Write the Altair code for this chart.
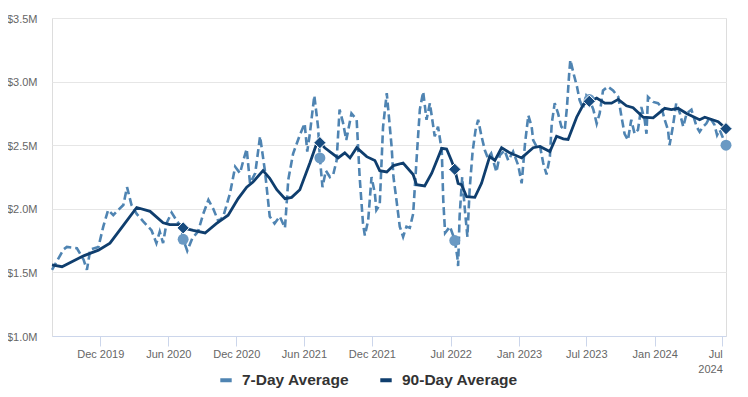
import altair as alt
import pandas as pd

# ---------------- data (values in $M) ----------------
ma7_dates = [
    "2019-07-24", "2019-08-24", "2019-09-02", "2019-09-29", "2019-10-17", "2019-10-26", "2019-11-04", "2019-11-26",
    "2019-12-09", "2019-12-22", "2020-01-05", "2020-01-18", "2020-02-01", "2020-02-11", "2020-02-23", "2020-03-08",
    "2020-03-26", "2020-04-17", "2020-04-30", "2020-05-09", "2020-05-18", "2020-05-27", "2020-06-10", "2020-06-23",
    "2020-07-07", "2020-07-11", "2020-07-22", "2020-08-05", "2020-08-20", "2020-09-03", "2020-09-17", "2020-09-30",
    "2020-10-14", "2020-10-27", "2020-11-14", "2020-11-28", "2020-12-11", "2020-12-20", "2020-12-29", "2021-01-07",
    "2021-01-21", "2021-02-03", "2021-02-16", "2021-03-01", "2021-03-14", "2021-03-28", "2021-04-11", "2021-04-20",
    "2021-05-03", "2021-05-21", "2021-06-03", "2021-06-10", "2021-06-17", "2021-06-29", "2021-07-09", "2021-07-14",
    "2021-07-21", "2021-07-30", "2021-08-10", "2021-08-19", "2021-08-28", "2021-09-05", "2021-09-14", "2021-09-23",
    "2021-10-07", "2021-10-21", "2021-10-29", "2021-11-07", "2021-11-12", "2021-11-21", "2021-11-30", "2021-12-09",
    "2021-12-13", "2021-12-22", "2021-12-31", "2022-01-10", "2022-01-14", "2022-01-23", "2022-01-28", "2022-02-05",
    "2022-02-14", "2022-02-23", "2022-03-04", "2022-03-13", "2022-03-22", "2022-03-31", "2022-04-09", "2022-04-18",
    "2022-04-27", "2022-05-06", "2022-05-19", "2022-05-28", "2022-06-07", "2022-06-11", "2022-06-16", "2022-06-29",
    "2022-07-12", "2022-07-19", "2022-07-21", "2022-07-25", "2022-08-01", "2022-08-08", "2022-08-15", "2022-08-21",
    "2022-08-29", "2022-09-06", "2022-09-13", "2022-09-22", "2022-10-01", "2022-10-09", "2022-10-18", "2022-11-01",
    "2022-11-10", "2022-11-23", "2022-12-03", "2022-12-16", "2022-12-30", "2023-01-08", "2023-01-17", "2023-01-26",
    "2023-02-04", "2023-02-08", "2023-02-17", "2023-02-26", "2023-03-07", "2023-03-16", "2023-03-25", "2023-03-30",
    "2023-04-07", "2023-04-16", "2023-04-25", "2023-05-04", "2023-05-10", "2023-05-16", "2023-05-19", "2023-05-28",
    "2023-06-06", "2023-06-13", "2023-06-22", "2023-07-01", "2023-07-09", "2023-07-20", "2023-07-29", "2023-08-06",
    "2023-08-15", "2023-08-28", "2023-09-11", "2023-09-25", "2023-10-03", "2023-10-12", "2023-10-21", "2023-10-30",
    "2023-11-08", "2023-11-17", "2023-11-26", "2023-12-05", "2023-12-10", "2023-12-14", "2023-12-28", "2024-01-10",
    "2024-01-19", "2024-01-28", "2024-02-06", "2024-02-10", "2024-02-19", "2024-02-28", "2024-03-09", "2024-03-18",
    "2024-03-27", "2024-04-09", "2024-04-23", "2024-05-01", "2024-05-10", "2024-05-19", "2024-05-28", "2024-06-10",
    "2024-06-17", "2024-06-24", "2024-07-11",
]
ma7_values = [
    1.52, 1.68, 1.70, 1.69, 1.60, 1.52, 1.68, 1.70,
    1.86, 1.99, 1.95, 1.99, 2.03, 2.17, 2.03, 1.96,
    1.90, 1.83, 1.73, 1.82, 1.73, 1.885, 1.97, 1.91,
    1.85, 1.76, 1.67, 1.77, 1.82, 1.96, 2.07, 2.00,
    1.90, 1.94, 2.12, 2.33, 2.28, 2.38, 2.47, 2.20,
    2.28, 2.57, 2.30, 1.94, 1.885, 1.94, 1.85, 2.23,
    2.435, 2.58, 2.67, 2.45, 2.59, 2.89, 2.645, 2.40,
    2.17, 2.30, 2.25, 2.27, 2.38, 2.78, 2.68, 2.54,
    2.75, 2.70, 2.25, 1.885, 1.79, 1.91, 2.25, 2.12,
    1.99, 2.03, 2.645, 2.91, 2.78, 2.49, 2.25, 2.07,
    1.86, 1.78, 1.86, 1.85, 1.96, 2.38, 2.78, 2.92,
    2.70, 2.83, 2.57, 2.645, 2.46, 2.07, 1.81, 1.86,
    1.755, 1.62, 1.55, 1.94, 2.25, 2.00, 1.78, 2.15,
    2.45, 2.62, 2.70, 2.57, 2.46, 2.40, 2.435, 2.29,
    2.42, 2.46, 2.38, 2.45, 2.34, 2.20, 2.51, 2.735,
    2.645, 2.54, 2.49, 2.50, 2.36, 2.27, 2.41, 2.67,
    2.83, 2.75, 2.645, 2.62, 2.80, 3.065, 3.17, 3.06,
    2.96, 2.855, 2.79, 2.89, 2.86, 2.78, 2.67, 2.75,
    2.93, 2.96, 2.93, 2.88, 2.735, 2.59, 2.54, 2.70,
    2.59, 2.62, 2.80, 2.70, 2.59, 2.88, 2.84, 2.83,
    2.80, 2.70, 2.62, 2.50, 2.645, 2.83, 2.75, 2.645,
    2.75, 2.78, 2.645, 2.605, 2.645, 2.67, 2.72, 2.66,
    2.58, 2.62, 2.50,
]

ma90_dates = [
    "2019-07-24", "2019-08-20", "2019-10-17", "2019-11-26", "2019-12-27", "2020-02-01", "2020-03-08", "2020-04-13",
    "2020-05-18", "2020-06-05", "2020-07-02", "2020-07-11", "2020-08-07", "2020-09-08", "2020-10-09", "2020-11-09",
    "2020-12-06", "2020-12-29", "2021-01-15", "2021-02-11", "2021-03-01", "2021-03-20", "2021-04-11", "2021-04-29",
    "2021-05-21", "2021-06-17", "2021-07-05", "2021-07-14", "2021-07-27", "2021-09-01", "2021-09-19", "2021-10-03",
    "2021-10-21", "2021-11-17", "2021-12-09", "2021-12-22", "2022-01-10", "2022-01-28", "2022-02-23", "2022-03-22",
    "2022-03-31", "2022-04-22", "2022-05-11", "2022-06-07", "2022-06-20", "2022-07-03", "2022-07-12", "2022-07-21",
    "2022-07-30", "2022-08-13", "2022-09-04", "2022-09-22", "2022-10-14", "2022-10-28", "2022-11-15", "2022-12-07",
    "2023-01-08", "2023-02-08", "2023-02-26", "2023-03-25", "2023-04-12", "2023-04-30", "2023-05-13", "2023-06-05",
    "2023-06-23", "2023-07-09", "2023-07-29", "2023-08-20", "2023-09-07", "2023-09-25", "2023-10-17", "2023-11-04",
    "2023-12-01", "2023-12-28", "2024-01-28", "2024-02-15", "2024-03-04", "2024-03-27", "2024-05-01", "2024-05-15",
    "2024-06-20", "2024-07-11",
]
ma90_values = [
    1.56, 1.545, 1.63, 1.675, 1.73, 1.87, 2.01, 1.98,
    1.89, 1.875, 1.875, 1.85, 1.83, 1.81, 1.885, 1.95,
    2.08, 2.17, 2.21, 2.30, 2.24, 2.15, 2.08, 2.09,
    2.15, 2.36, 2.51, 2.52, 2.48, 2.40, 2.44, 2.40,
    2.48, 2.41, 2.38, 2.30, 2.29, 2.34, 2.36, 2.27,
    2.19, 2.18, 2.28, 2.475, 2.47, 2.38, 2.31, 2.20,
    2.19, 2.095, 2.09, 2.20, 2.41, 2.38, 2.48, 2.44,
    2.40, 2.48, 2.49, 2.45, 2.57, 2.55, 2.545, 2.72,
    2.82, 2.845, 2.87, 2.83, 2.83, 2.86, 2.81, 2.795,
    2.72, 2.715, 2.79, 2.78, 2.79, 2.75, 2.70, 2.72,
    2.685, 2.63,
]

marker_dates = ["2020-07-11", "2021-07-14", "2022-07-12", "2023-07-09", "2024-07-11"]
marker_7day = [1.76, 2.40, 1.75, 2.86, 2.50]
marker_90day = [1.85, 2.52, 2.31, 2.845, 2.63]

series_names = ["7-Day Average", "90-Day Average"]
series_colors = ["#4f84b2", "#0f3e6e"]

x_tick_dates = ["2019-12-01", "2020-06-01", "2020-12-01", "2021-06-01", "2021-12-01",
                "2022-07-01", "2023-01-01", "2023-07-01", "2024-01-01", "2024-07-01"]
x_domain_dates = ["2019-07-24", "2024-07-11"]
y_ticks = [1.0, 1.5, 2.0, 2.5, 3.0, 3.5]


def to_ms(d):
    return int(pd.Timestamp(d).value // 10**6)


df7 = pd.DataFrame({"date": ma7_dates, "value": ma7_values, "series": series_names[0]})
df90 = pd.DataFrame({"date": ma90_dates, "value": ma90_values, "series": series_names[1]})
dfc = pd.DataFrame({"date": marker_dates, "value": marker_7day})
dfd = pd.DataFrame({"date": marker_dates, "value": marker_90day})

x_enc = alt.X(
    "date:T",
    title=None,
    scale=alt.Scale(type="utc", domain=[to_ms(d) for d in x_domain_dates]),
    axis=alt.Axis(
        values=[to_ms(d) for d in x_tick_dates],
        labelExpr="(utcyear(datum.value) == 2024 && utcmonth(datum.value) == 6) ? ['Jul', '2024'] : utcFormat(datum.value, '%b %Y')",
        grid=False,
        domainColor="#ccd6eb",
        tickColor="#ccd6eb",
        tickSize=10,
        labelPadding=2,
        labelFlush=6,
        labelColor="#666666",
        labelFontSize=11,
        labelFont="Liberation Sans",
        labelLineHeight=15,
    ),
)
y_enc = alt.Y(
    "value:Q",
    title=None,
    scale=alt.Scale(domain=[1.0, 3.5], nice=False, zero=False),
    axis=alt.Axis(
        values=y_ticks,
        labelExpr="'$' + format(datum.value, '.1f') + 'M'",
        domain=False,
        ticks=False,
        labelPadding=15,
        labelOffset=1,
        gridColor="#e6e6e6",
        gridWidth=1,
        labelColor="#666666",
        labelFontSize=11,
        labelFont="Liberation Sans",
    ),
)

color_scale = alt.Scale(domain=series_names, range=series_colors)
legend = alt.Legend(
    title=None,
    orient="none",
    legendX=166,
    legendY=354,
    direction="horizontal",
    symbolType="stroke",
    symbolStrokeWidth=4,
    symbolSize=130,
    labelFont="Liberation Sans",
    labelFontSize=15.5,
    labelFontWeight="bold",
    labelColor="#333333",
    columnPadding=22,
    labelOffset=8,
    padding=0,
)

line7 = alt.Chart(df7).mark_line(strokeDash=[8, 4], strokeWidth=2.6).encode(
    x=x_enc, y=y_enc, color=alt.Color("series:N", scale=color_scale, legend=legend)
)
line90 = alt.Chart(df90).mark_line(strokeWidth=2.8).encode(
    x=x_enc, y=y_enc, color=alt.Color("series:N", scale=color_scale, legend=legend)
)
circles = alt.Chart(dfc).mark_point(
    shape="circle", filled=True, size=120, color="#6a99c3", opacity=1
).encode(x=x_enc, y=y_enc)
diamonds = alt.Chart(dfd).mark_point(
    shape="diamond", filled=True, size=150, color="#174b7f", opacity=1, stroke="white", strokeWidth=1
).encode(x=x_enc, y=y_enc)

chart = alt.layer(line7, line90, circles, diamonds).properties(
    width=674,
    height=318,
    autosize=alt.AutoSizeParams(type="none"),
    padding={"left": 44, "top": 10, "right": 14, "bottom": 53},
).configure_view(stroke=None).configure(background="white")

chart.save("out.html", embed_options={"renderer": "svg", "actions": False})
